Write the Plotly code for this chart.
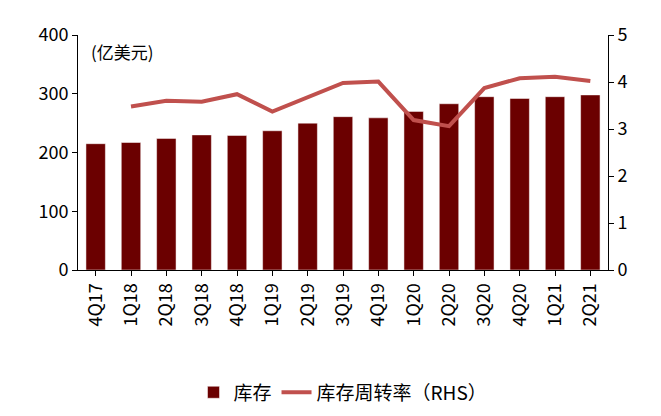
import plotly.graph_objects as go

quarters = ["4Q17", "1Q18", "2Q18", "3Q18", "4Q18", "1Q19", "2Q19", "3Q19",
            "4Q19", "1Q20", "2Q20", "3Q20", "4Q20", "1Q21", "2Q21"]
inventory = [215, 217, 224, 230, 229, 237, 250, 261, 259, 270, 283, 295, 292, 295, 298]
turnover = [None, 3.48, 3.6, 3.58, 3.74, 3.37, 3.67, 3.98, 4.01, 3.19, 3.06, 3.87, 4.08, 4.11, 4.02]

font = dict(family="Noto Sans CJK SC, DejaVu Sans", size=18, color="#000")

fig = go.Figure()
fig.add_trace(go.Bar(x=quarters, y=inventory, name="库存", marker_color="#6b0000", width=0.55))
fig.add_trace(go.Scatter(x=quarters, y=turnover, name="库存周转率（RHS）", yaxis="y2",
                         mode="lines", line=dict(color="#c0504d", width=4)))

fig.update_layout(
    width=661, height=416, template="plotly_white", font=font,
    margin=dict(l=70, r=61, t=22, b=146),
    showlegend=True,
    legend=dict(orientation="h", x=0.5, xanchor="center", y=-0.44, yanchor="top",
                font=dict(size=19)),
    xaxis=dict(tickangle=-90, showgrid=False, showline=True, linecolor="#000",
               ticks="outside", tickcolor="#000"),
    yaxis=dict(range=[0, 400], dtick=100, showgrid=False, showline=True,
               linecolor="#000", ticks="outside", tickcolor="#000", zeroline=False),
    yaxis2=dict(range=[0, 5], dtick=1, overlaying="y", side="right", showgrid=False,
                showline=True, linecolor="#000", ticks="outside", tickcolor="#000"),
    bargap=0.45,
)
fig.add_annotation(text="(亿美元)", xref="paper", yref="paper", x=0.02, y=0.99,
                   xanchor="left", yanchor="top", showarrow=False, font=dict(size=17))

fig.write_html("out.html")
